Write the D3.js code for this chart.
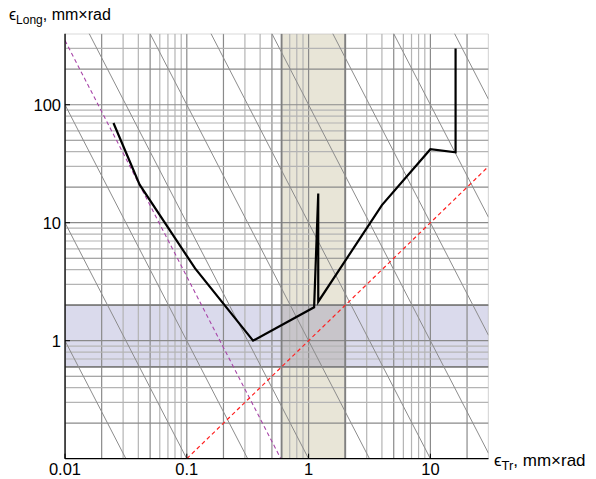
<!DOCTYPE html>
<html><head><meta charset="utf-8">
<script src="https://cdn.jsdelivr.net/npm/d3@7"></script>
<style>
body{margin:0;background:#fff;}
svg{display:block;font-family:"Liberation Sans",Arial,sans-serif;}
</style></head>
<body>
<svg id="chart" width="596" height="479"></svg>
<script>
// ---- data ----
const xDomain = [0.01, 30];
const yDomain = [0.1, 400];
const xTickLabels = [0.01, 0.1, 1, 10];
const yTickLabels = [1, 10, 100];
const curveX = [0.025, 0.041, 0.117, 0.35, 1.11, 1.2, 1.2, 4.0, 10, 16.1, 16.1];
const curveY = [70, 21, 4.1, 1.0, 1.92, 17.7, 2.14, 14.1, 42, 39.5, 300];
const bandX = [0.6, 2];
const bandY = [0.6, 2];
const isoConstants = [1e-5, 1e-4, 1e-3, 1e-2, 1e-1, 1, 10, 100, 1e3, 1e4, 1e5]; // y = C / x^2
const purpleConstant = 0.035; // y = C / x^2
const diagonalX = [0.1, 30];  // y = x

// ---- layout ----
const svg = d3.select("#chart");
const L = 65, R = 488.5, T = 33.7, B = 458.7;
const x = d3.scaleLog().domain(xDomain).range([L, R]);
const y = d3.scaleLog().domain(yDomain).range([B, T]);

svg.append("defs").append("clipPath").attr("id","clip")
  .append("rect").attr("x",L).attr("y",T).attr("width",R-L).attr("height",B-T);

const plot = svg.append("g").attr("clip-path","url(#clip)");

// bands
plot.append("rect").attr("x",x(bandX[0])).attr("width",x(bandX[1])-x(bandX[0]))
  .attr("y",T).attr("height",B-T).attr("fill","#e8e5d7");
plot.append("rect").attr("x",L).attr("width",R-L)
  .attr("y",y(bandY[1])).attr("height",y(bandY[0])-y(bandY[1]))
  .attr("fill","#dadaec");
plot.append("rect").attr("x",x(bandX[0])).attr("width",x(bandX[1])-x(bandX[0]))
  .attr("y",y(bandY[1])).attr("height",y(bandY[0])-y(bandY[1]))
  .attr("fill","#c8c5ca");

// grid
function shade(v){
  const m = Math.round(v / Math.pow(10, Math.floor(Math.log10(v)+1e-9)));
  return (m===1||m===2||m===5) ? "#8a8a8a" : "#b4b4b4";
}
const gx = x.ticks();
const gy = y.ticks();
plot.selectAll(".vg").data(gx).join("line")
  .attr("x1",d=>x(d)).attr("x2",d=>x(d)).attr("y1",T).attr("y2",B)
  .attr("stroke",d=>shade(d)).attr("stroke-width",1.2);
plot.selectAll(".hg").data(gy).join("line")
  .attr("y1",d=>y(d)).attr("y2",d=>y(d)).attr("x1",L).attr("x2",R)
  .attr("stroke",d=>shade(d)).attr("stroke-width",1.2);

// band edges
bandX.forEach(v=>plot.append("line").attr("x1",x(v)).attr("x2",x(v)).attr("y1",T).attr("y2",B)
  .attr("stroke","#808080").attr("stroke-width",1.8));
bandY.forEach(v=>plot.append("line").attr("y1",y(v)).attr("y2",y(v)).attr("x1",L).attr("x2",R)
  .attr("stroke","#808080").attr("stroke-width",1.8));

// iso lines y = C/x^2
plot.selectAll(".iso").data(isoConstants).join("line")
  .attr("x1",x(xDomain[0])).attr("x2",x(xDomain[1]))
  .attr("y1",C=>y(C/(xDomain[0]*xDomain[0]))).attr("y2",C=>y(C/(xDomain[1]*xDomain[1])))
  .attr("stroke","#8c8c8c").attr("stroke-width",1);

// purple dashed
plot.append("line")
  .attr("x1",x(xDomain[0])).attr("x2",x(xDomain[1]))
  .attr("y1",y(purpleConstant/(xDomain[0]*xDomain[0]))).attr("y2",y(purpleConstant/(xDomain[1]*xDomain[1])))
  .attr("stroke","#a845a8").attr("stroke-width",1.1).attr("stroke-dasharray","4,3");

// red dashed y=x
plot.append("line")
  .attr("x1",x(diagonalX[0])).attr("y1",y(diagonalX[0]))
  .attr("x2",x(diagonalX[1])).attr("y2",y(diagonalX[1]))
  .attr("stroke","#ff2020").attr("stroke-width",1.2).attr("stroke-dasharray","4,3");

// black curve
const pts = curveX.map((v,i)=>[v,curveY[i]]);
svg.append("path").datum(pts)
  .attr("d", d3.line().x(d=>x(d[0])).y(d=>y(d[1])))
  .attr("fill","none").attr("stroke","#000").attr("stroke-width",2.2)
  .attr("stroke-linejoin","miter");

// axes lines
svg.append("line").attr("x1",L).attr("x2",R).attr("y1",B).attr("y2",B).attr("stroke","#000").attr("stroke-width",1.3);
svg.append("line").attr("x1",L).attr("x2",L).attr("y1",T).attr("y2",B).attr("stroke","#000").attr("stroke-width",1.3);

// ticks
xTickLabels.forEach(v=>{
  svg.append("line").attr("x1",x(v)).attr("x2",x(v)).attr("y1",B).attr("y2",B-5).attr("stroke","#000");
  svg.append("text").attr("x",x(v)).attr("y",475).attr("text-anchor","middle")
    .attr("font-size",16.5).text(v);
});
yTickLabels.forEach(v=>{
  svg.append("line").attr("x1",L).attr("x2",L+5).attr("y1",y(v)).attr("y2",y(v)).attr("stroke","#000");
  svg.append("text").attr("x",L-4).attr("y",y(v)).attr("dy","0.36em").attr("text-anchor","end")
    .attr("font-size",16.5).text(v);
});

// axis titles
const ty = svg.append("text").attr("x",9).attr("y",20).attr("font-size",16);
ty.append("tspan").text("ϵ");
ty.append("tspan").attr("font-size",12).attr("dy",4).text("Long");
ty.append("tspan").attr("dy",-4).text(", mm×rad");

const tx = svg.append("text").attr("x",494).attr("y",466).attr("font-size",17);
tx.append("tspan").text("ϵ");
tx.append("tspan").attr("font-size",13).attr("dy",4).text("Tr");
tx.append("tspan").attr("dy",-4).text(", mm×rad");
</script>
</body></html>
